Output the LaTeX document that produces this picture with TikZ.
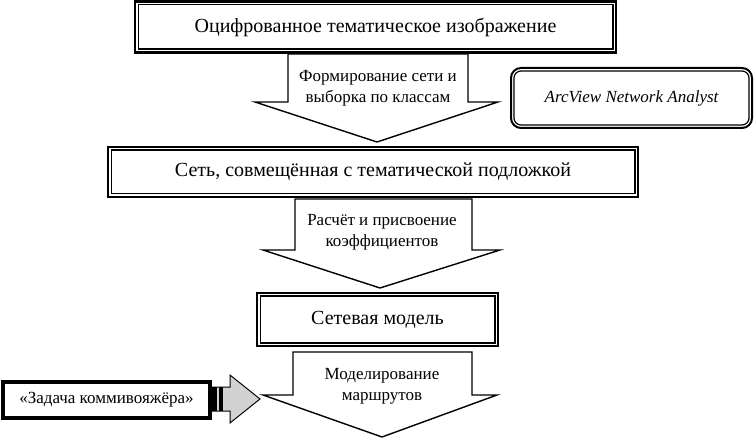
\documentclass[tikz,border=0pt]{standalone}
\usepackage{fontspec}
\setmainfont{Liberation Serif}
\begin{document}
\begin{tikzpicture}[x=1pt,y=-1pt,
  mainbox/.style={draw,line width=2.5pt,inner sep=0pt,font=\fontsize{20}{24}\selectfont},
  arrowtext/.style={align=center,inner sep=0pt,font=\fontsize{17}{21}\selectfont},
  blockarrow/.style={draw,line width=1.4pt,fill=white,line join=miter},
  innerline/.style={draw,line width=1.5pt}]
\useasboundingbox (0,0) rectangle (755,438);
% block arrows
\draw[blockarrow] (288,54) -- (468,54) -- (468,102) -- (498,102) -- (377,142) -- (255,102) -- (288,102) -- cycle;
\draw[blockarrow] (295,199) -- (472,199) -- (472,250) -- (500,250) -- (380,288) -- (263,250) -- (295,250) -- cycle;
\draw[blockarrow] (293,352) -- (472,352) -- (472,395) -- (497,395) -- (382,437) -- (263,395) -- (293,395) -- cycle;
\node[arrowtext] (a1) at (378,88) {Формирование сети и\\выборка по классам};
\node[arrowtext] (a2) at (382,232) {Расчёт и присвоение\\коэффициентов};
\node[arrowtext] (a3) at (382,386) {Моделирование\\маршрутов};
% main boxes
\node[mainbox,minimum width=481pt,minimum height=51pt] (b1) at (375.5,27) {Оцифрованное тематическое изображение};
\draw[innerline] ([shift={(4.5pt,-4.5pt)}]b1.north west) rectangle ([shift={(-4.5pt,4.5pt)}]b1.south east);
\node[mainbox,minimum width=530pt,minimum height=50pt] (b2) at (373,172) {Сеть, совмещённая с тематической подложкой};
\draw[innerline] ([shift={(4.5pt,-4.5pt)}]b2.north west) rectangle ([shift={(-4.5pt,4.5pt)}]b2.south east);
\node[mainbox,minimum width=241pt,minimum height=53pt] (b3) at (377.5,319.5) {Сетевая модель};
\draw[innerline] ([shift={(4.5pt,-4.5pt)}]b3.north west) rectangle ([shift={(-4.5pt,4.5pt)}]b3.south east);
% ArcView box
\node[draw,line width=2pt,rounded corners=10pt,minimum width=241pt,minimum height=60pt,
  font=\fontsize{17}{20}\selectfont\itshape] (av) at (631.5,98) {ArcView Network Analyst};
\draw[line width=1.2pt,rounded corners=7pt] ([shift={(4pt,-4pt)}]av.north west) rectangle ([shift={(-4pt,4pt)}]av.south east);
% left box
\node[draw,line width=3.5pt,minimum width=207pt,minimum height=36pt,inner sep=0pt,
  font=\fontsize{17}{20}\selectfont] (tsp) at (106.5,400) {«Задача коммивояжёра»};
% gray striped arrow
\draw[line width=1pt,fill=gray!35,line join=miter] (210,387) -- (230,387) -- (230,375) -- (260,399) -- (230,423) -- (230,411) -- (210,411) -- cycle;
\fill[black] (210,387) rectangle (217,411);
\fill[black] (219,387) rectangle (223,411);
\end{tikzpicture}
\end{document}
